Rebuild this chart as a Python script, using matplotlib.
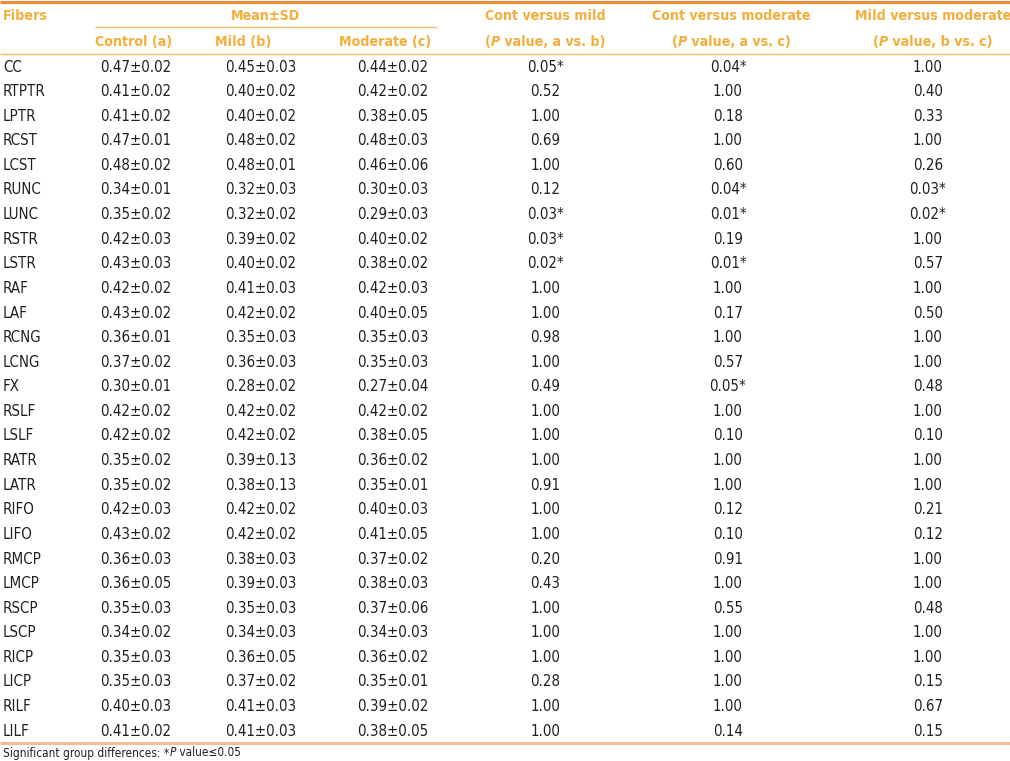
import matplotlib
matplotlib.use("Agg")
import matplotlib.pyplot as plt
from matplotlib import font_manager

# pick a narrow face if one is installed
names = {f.name for f in font_manager.fontManager.ttflist}
if "Liberation Sans Narrow" in names:
    FONT = ["Liberation Sans Narrow", "DejaVu Sans"]
    STRETCH = "normal"
else:
    FONT = ["DejaVu Sans"]
    STRETCH = "condensed"

fibers = ["CC", "RTPTR", "LPTR", "RCST", "LCST", "RUNC", "LUNC", "RSTR", "LSTR",
          "RAF", "LAF", "RCNG", "LCNG", "FX", "RSLF", "LSLF", "RATR", "LATR",
          "RIFO", "LIFO", "RMCP", "LMCP", "RSCP", "LSCP", "RICP", "LICP", "RILF", "LILF"]
control = ["0.47±0.02", "0.41±0.02", "0.41±0.02", "0.47±0.01", "0.48±0.02", "0.34±0.01",
           "0.35±0.02", "0.42±0.03", "0.43±0.03", "0.42±0.02", "0.43±0.02", "0.36±0.01",
           "0.37±0.02", "0.30±0.01", "0.42±0.02", "0.42±0.02", "0.35±0.02", "0.35±0.02",
           "0.42±0.03", "0.43±0.02", "0.36±0.03", "0.36±0.05", "0.35±0.03", "0.34±0.02",
           "0.35±0.03", "0.35±0.03", "0.40±0.03", "0.41±0.02"]
mild = ["0.45±0.03", "0.40±0.02", "0.40±0.02", "0.48±0.02", "0.48±0.01", "0.32±0.03",
        "0.32±0.02", "0.39±0.02", "0.40±0.02", "0.41±0.03", "0.42±0.02", "0.35±0.03",
        "0.36±0.03", "0.28±0.02", "0.42±0.02", "0.42±0.02", "0.39±0.13", "0.38±0.13",
        "0.42±0.02", "0.42±0.02", "0.38±0.03", "0.39±0.03", "0.35±0.03", "0.34±0.03",
        "0.36±0.05", "0.37±0.02", "0.41±0.03", "0.41±0.03"]
moderate = ["0.44±0.02", "0.42±0.02", "0.38±0.05", "0.48±0.03", "0.46±0.06", "0.30±0.03",
            "0.29±0.03", "0.40±0.02", "0.38±0.02", "0.42±0.03", "0.40±0.05", "0.35±0.03",
            "0.35±0.03", "0.27±0.04", "0.42±0.02", "0.38±0.05", "0.36±0.02", "0.35±0.01",
            "0.40±0.03", "0.41±0.05", "0.37±0.02", "0.38±0.03", "0.37±0.06", "0.34±0.03",
            "0.36±0.02", "0.35±0.01", "0.39±0.02", "0.38±0.05"]
p_ab = ["0.05*", "0.52", "1.00", "0.69", "1.00", "0.12", "0.03*", "0.03*", "0.02*",
        "1.00", "1.00", "0.98", "1.00", "0.49", "1.00", "1.00", "1.00", "0.91",
        "1.00", "1.00", "0.20", "0.43", "1.00", "1.00", "1.00", "0.28", "1.00", "1.00"]
p_ac = ["0.04*", "1.00", "0.18", "1.00", "0.60", "0.04*", "0.01*", "0.19", "0.01*",
        "1.00", "0.17", "1.00", "0.57", "0.05*", "1.00", "0.10", "1.00", "1.00",
        "0.12", "0.10", "0.91", "1.00", "0.55", "1.00", "1.00", "1.00", "1.00", "0.14"]
p_bc = ["1.00", "0.40", "0.33", "1.00", "0.26", "0.03*", "0.02*", "1.00", "0.57",
        "1.00", "0.50", "1.00", "1.00", "0.48", "1.00", "0.10", "1.00", "1.00",
        "0.21", "0.12", "1.00", "1.00", "0.48", "1.00", "1.00", "0.15", "0.67", "0.15"]
footnote = [("Significant group differences: *", "normal"), ("P", "italic"),
            (" value≤0.05", "normal")]

HEAD = "#F5AE3C"
RULE_TOP = "#F08A36"
RULE_MID = "#F3BD5E"
RULE_BOT = "#F4B995"
INK = "#231F20"
FS = 10.8
FS_HEAD = 10.2

W, H = 1010, 761
fig = plt.figure(figsize=(W / 100, H / 100), dpi=100)
ax = fig.add_axes([0, 0, 1, 1])
ax.set_xlim(0, W)
ax.set_ylim(H, 0)
ax.axis("off")


def txt(x, y, s, ha="left", color=INK, weight="normal", style="normal", size=FS):
    return ax.text(x, y, s, ha=ha, va="center", color=color, fontsize=size,
                   fontweight=weight, fontstyle=style, family=FONT, fontstretch=STRETCH)


def rich(x, y, parts, ha="center", color=HEAD, weight="bold", size=FS_HEAD):
    """draw segments side by side, (text, style) pairs, centred or left at x"""
    r = fig.canvas.get_renderer()
    inv = ax.transData.inverted()
    objs, widths = [], []
    for s, st in parts:
        t = txt(0, y, s, color=color, weight=weight, style=st, size=size)
        bb = t.get_window_extent(r)
        widths.append(inv.transform((bb.x1, 0))[0] - inv.transform((bb.x0, 0))[0])
        objs.append(t)
    x0 = x - sum(widths) / 2 if ha == "center" else x
    for t, w in zip(objs, widths):
        t.set_x(x0)
        x0 += w


# rules
ax.hlines(1.5, 0, W, color=RULE_TOP, lw=2.2)
ax.hlines(27, 95, 437, color=RULE_MID, lw=1.0)
ax.hlines(53.5, 0, W, color=RULE_MID, lw=1.0)
ax.hlines(743, 0, W, color=RULE_BOT, lw=2.2)

# header
hd = dict(color=HEAD, weight="bold", size=FS_HEAD)
txt(3, 16, "Fibers", **hd)
txt(266, 16, "Mean±SD", ha="center", **hd)
for x, s in [(134, "Control (a)"), (243, "Mild (b)"), (385, "Moderate (c)")]:
    txt(x, 42, s, ha="center", **hd)
for x, top, pair in [(545, "Cont versus mild", "a vs. b"),
                     (731, "Cont versus moderate", "a vs. c"),
                     (933, "Mild versus moderate", "b vs. c")]:
    txt(x, 16, top, ha="center", **hd)
    rich(x, 42, [("(", "normal"), ("P", "italic"), (" value, " + pair + ")", "normal")])

# body
y0, dy = 67, 24.6
for i, name in enumerate(fibers):
    y = y0 + i * dy
    txt(3, y, name)
    txt(100, y, control[i])
    txt(225, y, mild[i])
    txt(357, y, moderate[i])
    txt(545, y, p_ab[i], ha="center")
    txt(728, y, p_ac[i], ha="center")
    txt(928, y, p_bc[i], ha="center")

rich(3, 753, footnote, ha="left", color=INK, weight="normal", size=8.5)

fig.savefig("out.png", dpi=100)
